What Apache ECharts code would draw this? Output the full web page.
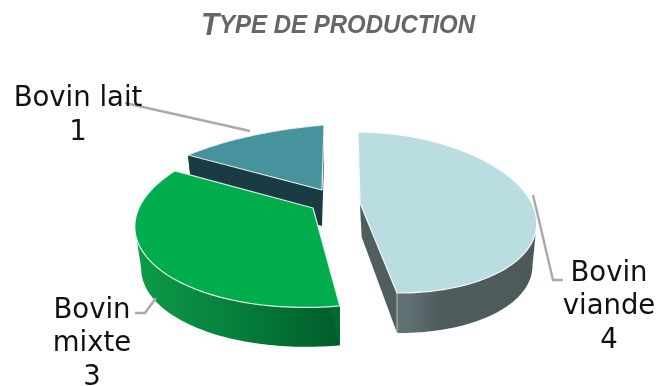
<!DOCTYPE html>
<html><head><meta charset="utf-8">
<style>html,body{margin:0;padding:0;background:#fff}#c{width:656px;height:386px}</style>
<script src="https://cdn.jsdelivr.net/npm/echarts@6/dist/echarts.min.js"></script>
</head><body><div id="c"></div>
<script>
// Data
var categories = ['Bovin viande', 'Bovin mixte', 'Bovin lait'];
var values = [4, 3, 1];
var labelLines = [['Bovin', 'viande', '4'], ['Bovin', 'mixte', '3'], ['Bovin lait', '1']];
// Style
var topColors = ['#b9dde0', '#00ad4d', '#46939e'];
var innerWallColors = ['#4f5f60', '#006b30', '#1b3b43'];
var wallStops = [
  [[0, '#5f7173'], [0.08, '#5f7173'], [0.3, '#4e5c5d'], [1, '#4c5a5a']],
  [[0, '#0d9a49'], [0.5, '#067f3b'], [1, '#005c2a']],
  [[0, '#1b3b43'], [1, '#1b3b43']]
];
// Projection of each exploded slice (centre, image of the unit right and down radii)
var centers = [[377.5, 212.5], [319, 220], [322, 190]];
var rightAxes = [[158, 1], [183, -16.4], [191.5, -15.5]];
var downAxes = [[19.5, 80.5], [20.8, 85.9], [-2, 65]];
var apexes = [[360, 203], [313, 208], [322, 190]];
var depths = [[0.6, 42.4], [0.8, 42], [0, 36]];
var apexDepths = [[1.7, 34], [0, 36], [0, 36]];
var bottomScale = 0.97;
var wallAngles = [[97, 180], [180, 276.5], [315, 360]];
// Label layout
var leaderPaths = [
  [[533, 195], [553, 280], [563, 280]],
  [[156, 298], [145, 313], [135, 313]],
  [[250, 131], [125, 103]]
];
var labelAnchors = [[609, 273.5], [92, 310.5], [78, 99]];
var labelStep = 33.5;
var drawRank = [3, 2, 1];

var total = values.reduce(function (a, b) { return a + b; }, 0);
var starts = [];
values.reduce(function (acc, v, i) { starts[i] = acc; return acc + v; }, 0);

function proj(i, deg, scale, off) {
  var t = deg * Math.PI / 180, s = Math.sin(t), c = -Math.cos(t);
  return [
    centers[i][0] + off[0] + scale * (rightAxes[i][0] * s + downAxes[i][0] * c),
    centers[i][1] + off[1] + scale * (rightAxes[i][1] * s + downAxes[i][1] * c)
  ];
}
function arc(i, a0, a1, scale, off) {
  var pts = [], n = 72;
  for (var k = 0; k <= n; k++) pts.push(proj(i, a0 + (a1 - a0) * k / n, scale, off));
  return pts;
}
function plus(p, d) { return [p[0] + d[0], p[1] + d[1]]; }

function renderItem(params, api) {
  var i = params.dataIndex, v = api.value(0);
  var a0 = starts[i] / total * 360, a1 = a0 + v / total * 360;
  var z = drawRank[i] * 10, none = [0, 0];
  var topArc = arc(i, a0, a1, 1, none);
  var botArc = arc(i, a0, a1, bottomScale, depths[i]);
  var wTop = arc(i, wallAngles[i][0], wallAngles[i][1], 1, none);
  var wBot = arc(i, wallAngles[i][0], wallAngles[i][1], bottomScale, depths[i]);
  var apexB = plus(apexes[i], apexDepths[i]);
  var kids = [];
  // outer wall
  kids.push({ type: 'polygon', z2: z, shape: { points: wTop.concat(wBot.slice().reverse()) },
    style: { fill: new echarts.graphic.LinearGradient(0, 0, 1, 0, wallStops[i].map(function (s) { return { offset: s[0], color: s[1] }; })) } });
  // radial walls
  kids.push({ type: 'polygon', z2: z + 1, shape: { points: [apexes[i], topArc[0], botArc[0], apexB] }, style: { fill: innerWallColors[i] } });
  kids.push({ type: 'polygon', z2: z + 1, shape: { points: [apexes[i], topArc[72], botArc[72], apexB] }, style: { fill: innerWallColors[i] } });
  // corner highlight
  kids.push({ type: 'polyline', z2: z + 2, shape: { points: [topArc[72], botArc[72]] }, style: { fill: null, stroke: 'rgba(255,255,255,0.6)', lineWidth: 1 } });
  // top face
  kids.push({ type: 'polygon', z2: z + 3, shape: { points: [apexes[i]].concat(topArc) },
    style: { fill: topColors[i], stroke: 'rgba(255,255,255,0.85)', lineWidth: 1.2, lineJoin: 'round' } });
  // leader
  kids.push({ type: 'polyline', z2: 100, shape: { points: leaderPaths[i] }, style: { fill: null, stroke: '#a9a9a9', lineWidth: 2.4 } });
  // label
  labelLines[i].forEach(function (t, k) {
    kids.push({ type: 'text', z2: 101, style: { text: t, x: labelAnchors[i][0], y: labelAnchors[i][1] + k * labelStep,
      align: 'center', verticalAlign: 'middle', fill: '#111', font: '27.5px "DejaVu Sans"' } });
  });
  return { type: 'group', children: kids };
}

var chart = echarts.init(document.getElementById('c'), null, { renderer: 'canvas' });
chart.setOption({
  animation: false,
  graphic: [{
    type: 'text', x: 338, y: 26, scaleX: 0.96, scaleY: 1, silent: true,
    style: {
      text: '{a|T}{b|YPE DE PRODUCTION}', align: 'center', verticalAlign: 'middle',
      rich: {
        a: { font: 'italic bold 31px "Liberation Sans"', fill: '#666666' },
        b: { font: 'italic bold 25px "Liberation Sans"', fill: '#666666' }
      }
    }
  }],
  series: [{
    type: 'custom', coordinateSystem: 'none', renderItem: renderItem, silent: true,
    data: values.map(function (v, i) { return { name: categories[i], value: [v] }; })
  }]
});
</script></body></html>
